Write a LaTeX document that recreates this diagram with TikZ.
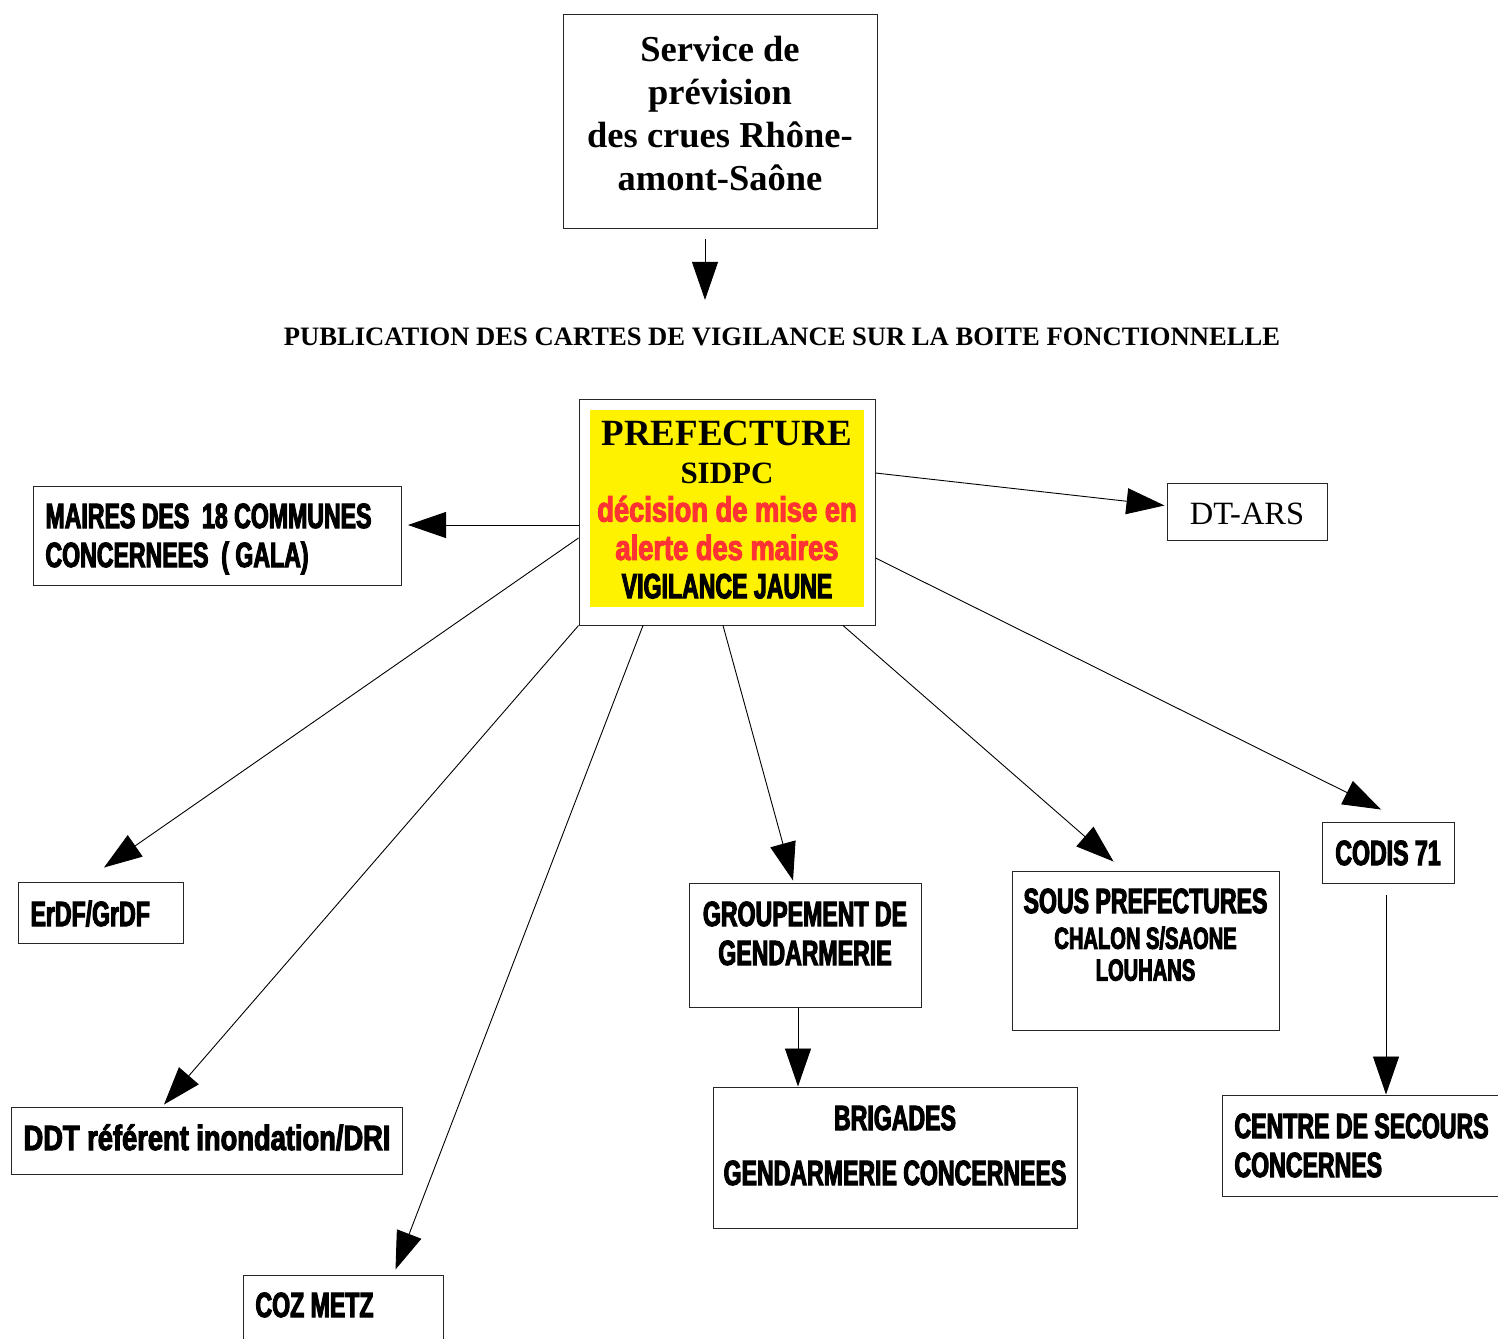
\documentclass[tikz,border=0pt]{standalone}
\usepackage{fontspec}
\setmainfont{Liberation Serif}
\newfontfamily\impactfont[FakeStretch=0.66,FakeBold=3]{Liberation Sans}
\newfontfamily\impactwide[FakeStretch=0.78,FakeBold=3]{Liberation Sans}
\usetikzlibrary{arrows.meta}
\definecolor{alertred}{RGB}{255,51,51}

\begin{document}
\begin{tikzpicture}[x=1pt, y=-1pt, box/.style={draw=black!85, line width=1pt, inner sep=0pt, anchor=base, align=flush center}, leftbox/.style={box, anchor=base west, inner xsep=12pt, align=flush left}, impact/.style={font=\impactfont\bfseries\fontsize{35}{39}\selectfont}, arr/.style={-{Triangle[length=38pt,width=26pt]}, line width=0.9pt}]

  \useasboundingbox (0,0) rectangle (1498,1338);

  \node[box, text width=314pt, text height=47pt, text depth=166pt, font=\bfseries\fontsize{36.5}{42.7}\selectfont] (svc) at (720,62) {Service de\\prévision\\des crues Rhône-\\amont-Saône};
  \node[inner sep=0pt, anchor=base, font=\bfseries\fontsize{26.6}{30}\selectfont] (pub) at (782,345.7) {PUBLICATION DES CARTES DE VIGILANCE SUR LA BOITE FONCTIONNELLE};

  \node[box, text width=296pt, text height=46pt, text depth=180pt, font=\bfseries\fontsize{37}{38.3}\selectfont, path picture={\fill[yellow] ([shift={(11pt,18pt)}]path picture bounding box.south west) rectangle ([shift={(-11pt,-11pt)}]path picture bounding box.north east);}] (pref) at (727,445) {PREFECTURE\\
    {\fontsize{31}{38.3}\selectfont SIDPC}\\
    {\impactwide\fontsize{35}{38.3}\selectfont\color{alertred}décision de mise en}\\
    {\impactwide\fontsize{35}{38.3}\selectfont\color{alertred}alerte des maires}\\
    {\impactfont\fontsize{35}{38.3}\selectfont VIGILANCE JAUNE}};

  \node[leftbox, impact, text width=344pt, text height=42pt, text depth=57pt] (maires) at (33,528) {MAIRES DES~ 18 COMMUNES\\CONCERNEES~ ( GALA)};
  \node[box, text width=160pt, text height=41pt, text depth=16pt, font=\fontsize{32.5}{36}\selectfont] (dtars) at (1247,524) {DT-ARS};
  \node[leftbox, impact, text width=141pt, text height=44pt, text depth=17pt] (erdf) at (18,926) {ErDF/GrDF};
  \node[leftbox, text width=367pt, text height=43pt, text depth=24pt, font=\impactwide\bfseries\fontsize{35}{39}\selectfont] (ddt) at (11,1150) {DDT référent inondation/DRI};
  \node[leftbox, impact, text width=176pt, text height=42pt, text depth=28pt] (coz) at (243,1317) {COZ METZ};
  \node[box, impact, text width=232pt, text height=43pt, text depth=81pt] (grp) at (805,926) {GROUPEMENT DE\\GENDARMERIE};
  \node[box, impact, text width=364pt, text height=43pt, text depth=98pt] (brig) at (895,1130) {BRIGADES\\[16pt]GENDARMERIE CONCERNEES};
  \node[box, impact, text width=267pt, text height=42pt, text depth=117pt, font=\impactfont\bfseries\fontsize{35}{35.8}\selectfont] (sous) at (1145.5,913) {SOUS PREFECTURES\\
    {\fontsize{30.5}{35.8}\selectfont CHALON S/SAONE}\\[-4pt]
    {\fontsize{30.5}{35.8}\selectfont LOUHANS}};
  \node[box, impact, text width=132pt, text height=43pt, text depth=18pt] (codis) at (1388,865) {CODIS 71};
  \node[leftbox, impact, text width=266pt, text height=43pt, text depth=58pt] (centre) at (1222,1138) {CENTRE DE SECOURS\\CONCERNES};

  \draw[arr, shorten >=28pt] ([xshift=-15pt,yshift=-10pt]svc.south) -- ([xshift=-15pt]svc.south |- pub.north);
  \draw[arr, shorten >=6pt] ([yshift=-13pt]pref.west) -- ([yshift=-13pt]pref.west -| maires.east);
  \draw[arr] ([yshift=39pt]pref.east) -- ([xshift=-2pt,yshift=6pt]dtars.west);
  \draw[arr] ([yshift=-26pt]pref.west) -- ([xshift=3pt,yshift=14pt]erdf.north);
  \draw[arr] (pref.south west) -- ([xshift=-43pt,yshift=2pt]ddt.north);
  \draw[arr] ([xshift=-84pt]pref.south) -- ([xshift=52pt,yshift=5pt]coz.north);
  \draw[arr] ([xshift=-4pt]pref.south) -- ([xshift=-12pt,yshift=2pt]grp.north);
  \draw[arr] ([xshift=-7pt]grp.south) -- ([xshift=-7pt]grp.south |- brig.north);
  \draw[arr] ([xshift=116pt]pref.south) -- ([xshift=-32pt,yshift=9pt]sous.north);
  \draw[arr] ([yshift=-46pt]pref.east) -- ([xshift=-7pt,yshift=12pt]codis.north);
  \draw[arr] ([xshift=-2pt,yshift=-11pt]codis.south) -- ([xshift=-2pt]codis.south |- centre.north);
\end{tikzpicture}
\end{document}
